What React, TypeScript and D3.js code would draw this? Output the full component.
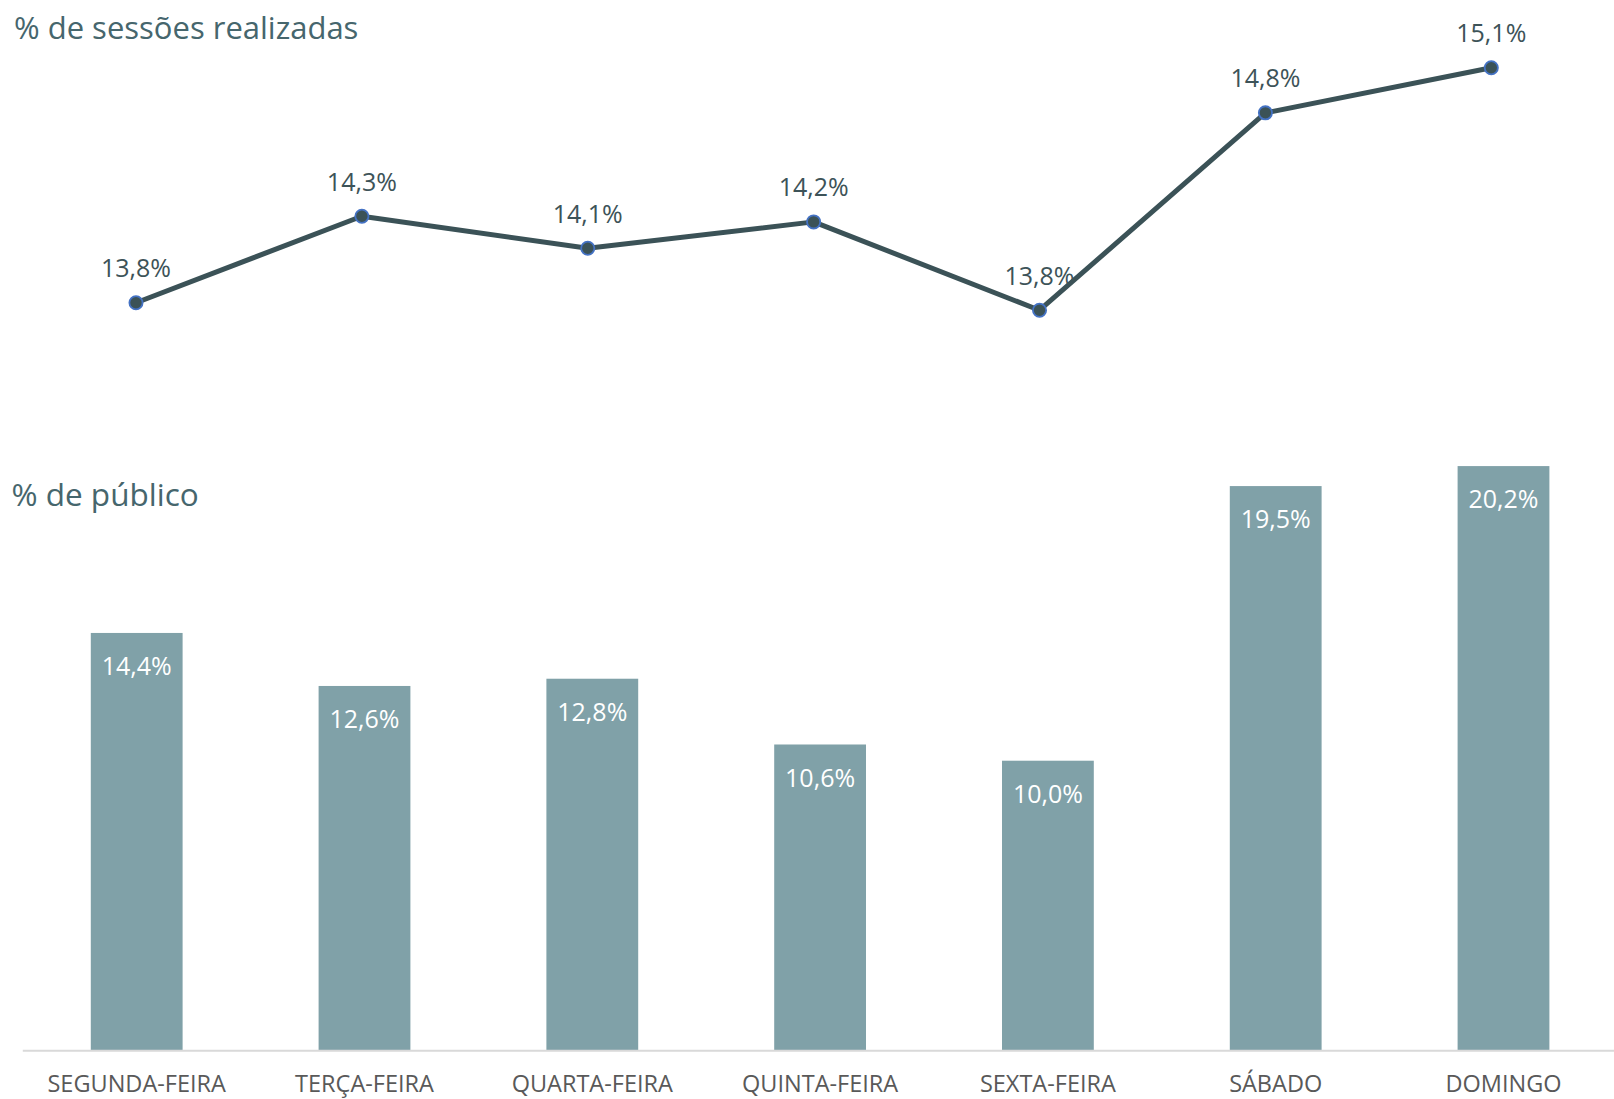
import React from "react";
import * as d3 from "d3";

const categories = ["SEGUNDA-FEIRA", "TERÇA-FEIRA", "QUARTA-FEIRA", "QUINTA-FEIRA", "SEXTA-FEIRA", "SÁBADO", "DOMINGO"];
const sessoes = [13.81, 14.27, 14.1, 14.24, 13.77, 14.82, 15.06];
const publico = [14.42, 12.59, 12.84, 10.57, 10.01, 19.49, 20.18];
const titleLine = "% de sessões realizadas";
const titleBar = "% de público";

const W = 1614;
const H = 1099;
const FONT = "'Open Sans', 'Noto Sans', sans-serif";

const fmt = (v: number) => d3.format(".1f")(v).replace(".", ",") + "%";

export default function App() {
  const xLine = d3.scalePoint<string>().domain(categories).range([136, 1491.3]);
  const yLine = d3.scaleLinear().domain([13, 15.5]).range([455, -15]);

  const xBar = d3
    .scaleBand<string>()
    .domain(categories)
    .range([22.8, 1617.4])
    .paddingInner(0.597)
    .paddingOuter(0.2985);
  const yBar = d3.scaleLinear().domain([0, 25]).range([1050.7, 326.45]);

  const lineGen = d3
    .line<number>()
    .x((_, i) => xLine(categories[i]) as number)
    .y((d) => yLine(d));

  return (
    <svg
      width={W}
      height={H}
      style={{ position: "absolute", left: 0, top: 0, background: "#fff" }}
      fontFamily={FONT}
    >
      <text x={14} y={39} fontSize={31} fill="#46666D">
        {titleLine}
      </text>
      <text x={11.5} y={505.7} fontSize={31.5} fill="#46666D">
        {titleBar}
      </text>

      <path d={lineGen(sessoes) || ""} fill="none" stroke="#3B5257" strokeWidth={5} strokeLinejoin="round" />
      {sessoes.map((v, i) => (
        <g key={"p" + i}>
          <circle
            cx={xLine(categories[i]) as number}
            cy={yLine(v)}
            r={6.6}
            fill="#3B5257"
            stroke="#4472C4"
            strokeWidth={1.8}
          />
          <text
            x={xLine(categories[i]) as number}
            y={yLine(v) - 25.5}
            textAnchor="middle"
            fontSize={25}
            fill="#3D5358"
          >
            {fmt(v)}
          </text>
        </g>
      ))}

      {publico.map((v, i) => {
        const x = xBar(categories[i]) as number;
        const bw = xBar.bandwidth();
        return (
          <g key={"b" + i}>
            <rect x={x} y={yBar(v)} width={bw} height={yBar(0) - yBar(v)} fill="#80A1A8" />
            <text x={x + bw / 2} y={yBar(v) + 42.3} textAnchor="middle" fontSize={25} fill="#FFFFFF">
              {fmt(v)}
            </text>
          </g>
        );
      })}

      <line x1={22.8} x2={1614} y1={1050.7} y2={1050.7} stroke="#D9D9D9" strokeWidth={2} />

      {categories.map((c) => (
        <text
          key={c}
          x={(xBar(c) as number) + xBar.bandwidth() / 2}
          y={1092}
          textAnchor="middle"
          fontSize={23.5}
          fill="#595959"
        >
          {c}
        </text>
      ))}
    </svg>
  );
}
